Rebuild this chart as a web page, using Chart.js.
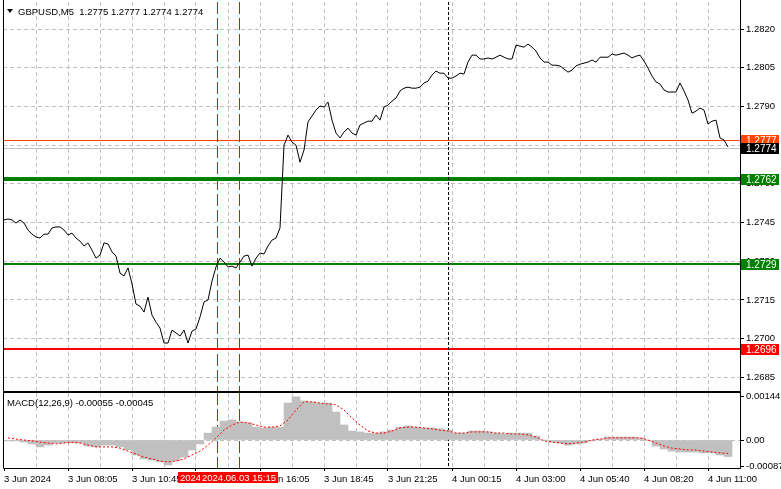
<!DOCTYPE html>
<html>
<head>
<meta charset="utf-8">
<script src="https://cdn.jsdelivr.net/npm/chart.js@4.4.0/dist/chart.umd.min.js"></script>
<style>
  html, body { margin: 0; padding: 0; background: #fff; }
  #wrap { position: relative; width: 781px; height: 489px; overflow: hidden; }
  #priceBox { position: absolute; left: 0; top: 0; width: 781px; height: 392px; }
  #macdBox { position: absolute; left: 0; top: 391px; width: 781px; height: 98px; }
</style>
</head>
<body>
<div id="wrap">
  <div id="priceBox"><canvas id="price" width="781" height="392"></canvas></div>
  <div id="macdBox"><canvas id="macd" width="781" height="98"></canvas></div>
</div>
<script>
// --- data ---
const symbol = 'GBPUSD,M5';
const lastOhlc = ['1.2775', '1.2777', '1.2774', '1.2774'];
const macdTitle = 'MACD(12,26,9) -0.00055 -0.00045';

// close every 2nd M5 bar
const closeStep = 2;
const closes = [
  1.27460, 1.27464, 1.27460, 1.27448, 1.27460, 1.27448, 1.27421, 1.27405, 1.27394, 1.27390,
  1.27405, 1.27405, 1.27429, 1.27433, 1.27433, 1.27421, 1.27402, 1.27409, 1.27390, 1.27378,
  1.27359, 1.27371, 1.27343, 1.27312, 1.27324, 1.27371, 1.27367, 1.27336, 1.27320, 1.27254,
  1.27243, 1.27274, 1.27212, 1.27134, 1.27126, 1.27103, 1.27161, 1.27091, 1.27064, 1.27041,
  1.26983, 1.26983, 1.27033, 1.27022, 1.27010, 1.27033, 1.26983, 1.27029, 1.27037, 1.27084,
  1.27142, 1.27150, 1.27223, 1.27278, 1.27312, 1.27297, 1.27278, 1.27281, 1.27274, 1.27297,
  1.27320, 1.27324, 1.27281, 1.27312, 1.27332, 1.27328, 1.27359, 1.27382, 1.27390, 1.27429,
  1.27750, 1.27789, 1.27762, 1.27750, 1.27684, 1.27731, 1.27840, 1.27863, 1.27886, 1.27902,
  1.27898, 1.27917, 1.27847, 1.27797, 1.27778, 1.27801, 1.27816, 1.27797, 1.27789, 1.27828,
  1.27836, 1.27843, 1.27843, 1.27867, 1.27847, 1.27898, 1.27905, 1.27921, 1.27933, 1.27960,
  1.27971, 1.27975, 1.27971, 1.27971, 1.27975, 1.27991, 1.27998, 1.28022, 1.28037, 1.28029,
  1.28029, 1.28010, 1.28010, 1.28018, 1.28029, 1.28026, 1.28072, 1.28099, 1.28099, 1.28084,
  1.28084, 1.28088, 1.28084, 1.28091, 1.28099, 1.28091, 1.28084, 1.28084, 1.28138, 1.28134,
  1.28130, 1.28142, 1.28130, 1.28115, 1.28088, 1.28072, 1.28072, 1.28060, 1.28060, 1.28057,
  1.28045, 1.28033, 1.28041, 1.28057, 1.28064, 1.28068, 1.28072, 1.28080, 1.28072, 1.28091,
  1.28091, 1.28091, 1.28103, 1.28099, 1.28103, 1.28107, 1.28099, 1.28088, 1.28095, 1.28099,
  1.28076, 1.28049, 1.28018, 1.27995, 1.27987, 1.27964, 1.27956, 1.27956, 1.27956, 1.27991,
  1.27960, 1.27925, 1.27874, 1.27882, 1.27894, 1.27886, 1.27832, 1.27843, 1.27847, 1.27778,
  1.27770, 1.27743
];

// MACD sampled every 4th bar starting at bar 2
const macdFirst = 2;
const macdStep = 4;
const macdMain = [
  -0.00003, -0.00003, -0.00007, -0.00013, -0.00023, -0.00017, -0.00010, -0.00010, -0.00010, -0.00010,
  -0.00020, -0.00023, -0.00017, -0.00017, -0.00023, -0.00033, -0.00050, -0.00063, -0.00067, -0.00073,
  -0.00083, -0.00070, -0.00057, -0.00033, -0.00013, 0.00023, 0.00043, 0.00063, 0.00067, 0.00060,
  0.00057, 0.00043, 0.00040, 0.00043, 0.00043, 0.00123, 0.00144, 0.00130, 0.00127, 0.00123,
  0.00123, 0.00093, 0.00050, 0.00030, 0.00027, 0.00023, 0.00023, 0.00027, 0.00033, 0.00043,
  0.00047, 0.00043, 0.00040, 0.00040, 0.00037, 0.00033, 0.00023, 0.00023, 0.00030, 0.00030,
  0.00027, 0.00023, 0.00020, 0.00023, 0.00023, 0.00023, 0.00013, 0.00000, -0.00007, -0.00010,
  -0.00017, -0.00013, -0.00010, -0.00003, 0.00003, 0.00010, 0.00010, 0.00010, 0.00010, 0.00007,
  -0.00003, -0.00020, -0.00030, -0.00037, -0.00040, -0.00040, -0.00040, -0.00043, -0.00043, -0.00050,
  -0.00055
];
const macdSignal = [
  0.00007, 0.00003, 0.00000, -0.00003, -0.00007, -0.00010, -0.00013, -0.00010, -0.00007, -0.00010,
  -0.00017, -0.00023, -0.00023, -0.00023, -0.00027, -0.00037, -0.00047, -0.00057, -0.00063, -0.00070,
  -0.00073, -0.00070, -0.00063, -0.00050, -0.00037, -0.00017, 0.00007, 0.00033, 0.00050, 0.00060,
  0.00057, 0.00050, 0.00043, 0.00043, 0.00047, 0.00067, 0.00100, 0.00127, 0.00127, 0.00123,
  0.00120, 0.00117, 0.00100, 0.00073, 0.00050, 0.00030, 0.00023, 0.00023, 0.00030, 0.00040,
  0.00043, 0.00043, 0.00040, 0.00037, 0.00033, 0.00030, 0.00023, 0.00023, 0.00027, 0.00027,
  0.00027, 0.00023, 0.00023, 0.00020, 0.00020, 0.00017, 0.00010, -0.00003, -0.00007, -0.00010,
  -0.00013, -0.00010, -0.00007, 0.00000, 0.00003, 0.00007, 0.00007, 0.00007, 0.00007, 0.00007,
  0.00000, -0.00010, -0.00020, -0.00027, -0.00030, -0.00033, -0.00033, -0.00037, -0.00040, -0.00043,
  -0.00045
];

const labelEvery = 32; // bars between time labels
const timeLabels = ['3 Jun 2024', '3 Jun 08:05', '3 Jun 10:45', '3 Jun 13:25', '3 Jun 16:05', '3 Jun 18:45',
  '3 Jun 21:25', '4 Jun 00:15', '4 Jun 03:00', '4 Jun 05:40', '4 Jun 08:20', '4 Jun 11:00'];
const priceTicks = [1.2685, 1.2700, 1.2715, 1.2730, 1.2745, 1.2760, 1.2775, 1.2790, 1.2805, 1.2820];
const macdTicks = [-0.00087, 0, 0.00144];

const levels = [1.2777, 1.2762, 1.2729, 1.2696];
const bidPrice = 1.2774;
const eventBars = [106.5, 117.5];
const eventTimes = ['2024.06.03 14:20', '2024.06.03 15:15'];
const cursorBar = 222;

// --- look ---
const FONT = "'Liberation Sans', Arial, sans-serif";
const GRID = '#c0c0c0';
const levelStyle = [
  { color: '#ff4500', width: 1 },
  { color: '#008000', width: 4 },
  { color: '#008000', width: 2 },
  { color: '#ff0000', width: 2 },
];
const BAR_MIN = -0.5;
const BAR_MAX = 368;
const PRICE_MIN = 1.26797;
const PRICE_MAX = 1.28305;
const MACD_MIN = -0.000932;
const MACD_MAX = 0.001565;

const gridBars = [];
for (let b = 16; b < BAR_MAX; b += 16) gridBars.push(b);
const axisBars = [0, ...gridBars];

function vLines(ctx, area, xScale) {
  ctx.save();
  ctx.lineWidth = 1;
  ctx.strokeStyle = '#ff0000';
  ctx.setLineDash([12, 4]);
  eventBars.forEach(b => {
    const x = Math.round(xScale.getPixelForValue(b)) + 0.5;
    ctx.beginPath(); ctx.moveTo(x, area.top); ctx.lineTo(x, area.bottom); ctx.stroke();
  });
  ctx.strokeStyle = '#000';
  ctx.setLineDash([3, 2]);
  const cx = Math.round(xScale.getPixelForValue(cursorBar)) + 0.5;
  ctx.beginPath(); ctx.moveTo(cx, area.top); ctx.lineTo(cx, area.bottom); ctx.stroke();
  ctx.restore();
}

function frame(ctx, area, top) {
  ctx.save();
  ctx.strokeStyle = '#000';
  ctx.lineWidth = 1;
  ctx.beginPath();
  ctx.moveTo(area.left + 0.5, top); ctx.lineTo(area.left + 0.5, area.bottom + 0.5);
  ctx.lineTo(area.right + 0.5, area.bottom + 0.5);
  ctx.moveTo(area.right + 0.5, top); ctx.lineTo(area.right + 0.5, area.bottom + 0.5);
  ctx.stroke();
  ctx.restore();
}

function priceTag(ctx, area, y, value, bg) {
  ctx.fillStyle = bg;
  ctx.fillRect(area.right + 1, Math.round(y) - 5, 38, 11);
  ctx.fillStyle = '#fff';
  ctx.textBaseline = 'middle';
  ctx.textAlign = 'left';
  ctx.fillText(value.toFixed(4), area.right + 6, Math.round(y) + 1);
}

const priceOverlay = {
  id: 'priceOverlay',
  beforeDatasetsDraw(chart) {
    const { ctx, chartArea: a, scales: { x, y } } = chart;
    ctx.save();
    ctx.fillStyle = GRID;
    ctx.fillRect(a.left, Math.round(y.getPixelForValue(bidPrice)), a.right - a.left, 1);
    levels.forEach((lv, i) => {
      const s = levelStyle[i];
      ctx.fillStyle = s.color;
      ctx.fillRect(a.left, Math.round(y.getPixelForValue(lv) - s.width / 2), a.right - a.left, s.width);
    });
    ctx.restore();
    vLines(ctx, a, x);
  },
  afterDraw(chart) {
    const { ctx, chartArea: a, scales: { y } } = chart;
    frame(ctx, a, 0);
    ctx.save();
    ctx.font = `10px ${FONT}`;
    levels.forEach((lv, i) => priceTag(ctx, a, y.getPixelForValue(lv), lv, levelStyle[i].color));
    priceTag(ctx, a, y.getPixelForValue(bidPrice), bidPrice, '#000');
    // title
    ctx.fillStyle = '#000';
    ctx.beginPath();
    ctx.moveTo(7, 9); ctx.lineTo(13, 9); ctx.lineTo(10, 13); ctx.closePath(); ctx.fill();
    ctx.textBaseline = 'alphabetic';
    ctx.textAlign = 'left';
    ctx.font = `9.5px ${FONT}`;
    ctx.fillText(`${symbol}  ${lastOhlc.join(' ')}`, 18, 15);
    ctx.restore();
  }
};

const macdOverlay = {
  id: 'macdOverlay',
  beforeDatasetsDraw(chart) {
    const { ctx, chartArea: a, scales: { x } } = chart;
    vLines(ctx, a, x);
  },
  afterDraw(chart) {
    const { ctx, chartArea: a, scales: { x } } = chart;
    frame(ctx, a, a.top - 0.5);
    ctx.save();
    ctx.strokeStyle = '#000';
    ctx.beginPath(); ctx.moveTo(a.left, a.top - 0.5); ctx.lineTo(a.right + 1, a.top - 0.5); ctx.stroke();
    ctx.font = `9.5px ${FONT}`;
    ctx.fillStyle = '#000';
    ctx.textBaseline = 'alphabetic';
    ctx.fillText(macdTitle, 7, 15);
    ctx.textAlign = 'center';
    ctx.textBaseline = 'middle';
    eventBars.forEach((b, i) => {
      const cx = x.getPixelForValue(b);
      ctx.fillStyle = '#ff0000';
      ctx.fillRect(Math.round(cx - 39), a.bottom + 4, 78, 11);
      ctx.fillStyle = '#fff';
      ctx.fillText(eventTimes[i], cx, a.bottom + 10);
    });
    ctx.restore();
  }
};

const tickFont = { family: FONT, size: 9.5 };

new Chart(document.getElementById('price'), {
  type: 'line',
  data: {
    datasets: [{
      data: closes.map((c, i) => ({ x: i * closeStep, y: c })),
      borderColor: '#000',
      borderWidth: 1,
      pointRadius: 0,
      tension: 0,
    }]
  },
  options: {
    responsive: false,
    animation: false,
    devicePixelRatio: 1,
    layout: { padding: { left: 3, top: 2, right: 0, bottom: 1 } },
    plugins: { legend: { display: false }, tooltip: { enabled: false } },
    scales: {
      x: {
        type: 'linear', min: BAR_MIN, max: BAR_MAX,
        afterBuildTicks: s => { s.ticks = gridBars.map(v => ({ value: v })); },
        afterFit: s => { s.height = 0; s.paddingLeft = 0; s.paddingRight = 0; },
        ticks: { display: false },
        grid: { color: GRID, drawTicks: false },
        border: { display: false, dash: [4, 3] },
      },
      y: {
        position: 'right', min: PRICE_MIN, max: PRICE_MAX,
        afterBuildTicks: s => { s.ticks = priceTicks.map(v => ({ value: v })); },
        afterFit: s => { s.width = 41; s.paddingTop = 0; s.paddingBottom = 0; },
        ticks: { font: tickFont, color: '#000', padding: 2, autoSkip: false, callback: v => v.toFixed(4) },
        grid: { color: GRID, tickLength: 4, tickColor: '#000', tickBorderDash: [] },
        border: { display: false, dash: [4, 3] },
      }
    }
  },
  plugins: [priceOverlay]
});

new Chart(document.getElementById('macd'), {
  type: 'bar',
  data: {
    datasets: [{
      type: 'line',
      order: 0,
      data: macdSignal.map((v, i) => ({ x: macdFirst + i * macdStep, y: v })),
      borderColor: '#ff0000',
      borderWidth: 1,
      borderDash: [2, 2],
      pointRadius: 0,
      tension: 0,
    }, {
      type: 'bar',
      order: 1,
      data: macdMain.map((v, i) => ({ x: macdFirst + i * macdStep, y: v })),
      backgroundColor: '#c0c0c0',
      borderWidth: 0,
      barPercentage: 1,
      categoryPercentage: 1,
    }]
  },
  options: {
    responsive: false,
    animation: false,
    devicePixelRatio: 1,
    layout: { padding: { left: 3, top: 2, right: 0, bottom: 0 } },
    plugins: { legend: { display: false }, tooltip: { enabled: false } },
    scales: {
      x: {
        type: 'linear', min: BAR_MIN, max: BAR_MAX, offset: false,
        afterBuildTicks: s => { s.ticks = axisBars.map(v => ({ value: v })); },
        afterFit: s => { s.height = 21; s.paddingLeft = 0; s.paddingRight = 0; },
        ticks: {
          autoSkip: false, maxRotation: 0, minRotation: 0, align: 'start', padding: 3,
          font: tickFont, color: '#000',
          callback: v => (v % labelEvery === 0 ? timeLabels[v / labelEvery] : '')
        },
        grid: {
          offset: false,
          color: c => (c.tick && c.tick.value === 0 ? 'rgba(0,0,0,0)' : GRID),
          tickLength: 3,
          tickColor: c => (c.tick && c.tick.value % labelEvery === 0 ? '#000' : 'rgba(0,0,0,0)'),
          tickBorderDash: []
        },
        border: { display: false, dash: [4, 3] },
      },
      y: {
        position: 'right', min: MACD_MIN, max: MACD_MAX,
        afterBuildTicks: s => { s.ticks = macdTicks.map(v => ({ value: v })); },
        afterFit: s => { s.width = 41; s.paddingTop = 0; s.paddingBottom = 0; },
        ticks: { font: tickFont, color: '#000', padding: 2, autoSkip: false, callback: v => (v === 0 ? '0.00' : v.toFixed(5)) },
        grid: {
          color: c => (c.tick && c.tick.value === 0 ? GRID : 'rgba(0,0,0,0)'),
          tickLength: 4, tickColor: '#000', tickBorderDash: []
        },
        border: { display: false, dash: [4, 3] },
      }
    }
  },
  plugins: [macdOverlay]
});
</script>
</body>
</html>
